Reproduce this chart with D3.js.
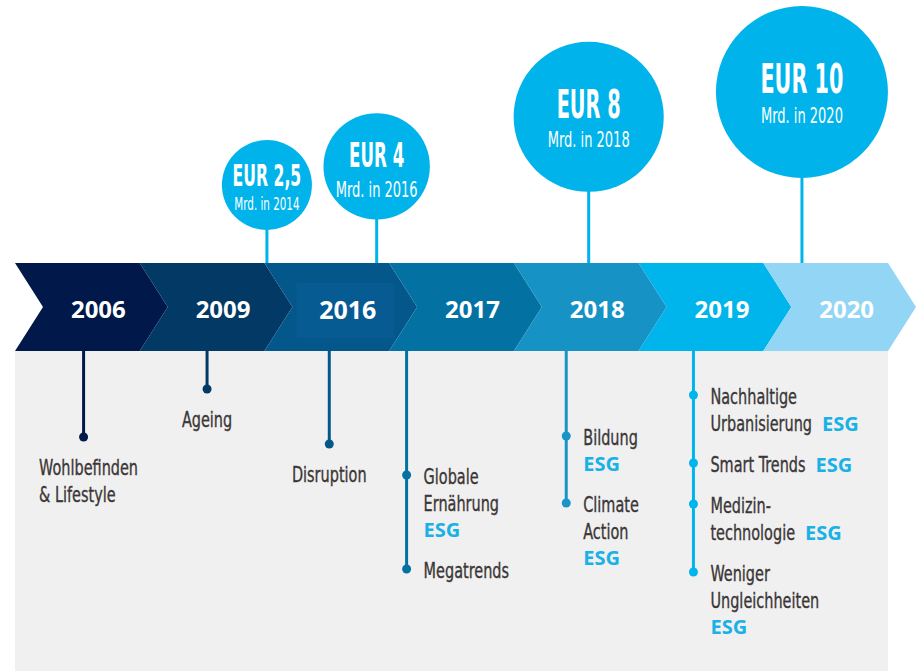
<!DOCTYPE html>
<html>
<head>
<meta charset="utf-8">
<script src="https://cdn.jsdelivr.net/npm/d3@7"></script>
<style>
  body { margin: 0; background: #fff; }
</style>
</head>
<body>
<svg id="chart" width="916" height="671"></svg>
<script>
// ---- data ----
var years = ["2006", "2009", "2016", "2017", "2018", "2019", "2020"];

var fundAmounts = [2.5, 4, 8, 10];
var fundLabels = ["EUR 2,5", "EUR 4", "EUR 8", "EUR 10"];
var fundSubs = ["Mrd. in 2014", "Mrd. in 2016", "Mrd. in 2018", "Mrd. in 2020"];

var themeYears = ["2006", "2009", "2016", "2017", "2018", "2019"];
var themeItems = [
  [{lines: ["Wohlbefinden", "& Lifestyle"]}],
  [{lines: ["Ageing"]}],
  [{lines: ["Disruption"]}],
  [{lines: ["Globale", "Ernährung"], esg: "below"}, {lines: ["Megatrends"]}],
  [{lines: ["Bildung"], esg: "below"}, {lines: ["Climate", "Action"], esg: "below"}],
  [{lines: ["Nachhaltige", "Urbanisierung"], esg: "inline"},
   {lines: ["Smart Trends"], esg: "inline"},
   {lines: ["Medizin-", "technologie"], esg: "inline"},
   {lines: ["Weniger", "Ungleichheiten"], esg: "below"}]
];

// ---- layout ----
var bandColors = ["#00184a", "#023965", "#03578a", "#0372a3", "#1792c5", "#00b4ec", "#93d5f5"];
var stemColors = ["#00184a", "#023965", "#03578a", "#0372a3", "#1a93c6", "#00b4ec"];
var fundSlot = [2.02, 2.9, 4.6, 6.31];      // where each fund circle sits along the band
var stemSlot = [0.55, 1.54, 2.52, 3.14, 4.42, 5.44];
var stemDrop = [86, 38, 93, 124, 85, 44];   // first dot below the band
var hanging = [true, true, true, false, false, false];

var W = 916, H = 671;
var bandTop = 263, bandBot = 351, tip = 28;
var NARROW = "'Liberation Sans Narrow', 'DejaVu Sans Condensed', 'Liberation Sans', Arial, sans-serif";
var WIDE = "'Open Sans', 'Liberation Sans', Arial, sans-serif";
var blue = "#00b4eb", esgBlue = "#19b1e6", ink = "#3b3737";

var svg = d3.select("#chart");

var xSlot = d3.scaleLinear().domain([0, years.length]).range([15, 888]);
var color = d3.scaleOrdinal().domain(years).range(bandColors);
var stemColor = d3.scaleOrdinal().domain(themeYears).range(stemColors);
var rScale = d3.scaleLinear().domain([2.5, 10]).range([45, 86]);
var cyScale = d3.scaleLinear().domain([2.5, 10]).range([185, 92]);
var eurSize = d3.scaleLinear().domain([2.5, 10]).range([31, 41]);
var mrdSize = d3.scaleLinear().domain([2.5, 4]).range([17.5, 22]).clamp(true);

function measure(str, family, size, weight) {
  var t = svg.append("text")
    .style("font-family", family).style("font-size", size + "px").style("font-weight", weight)
    .text(str);
  var w = t.node().getComputedTextLength();
  t.remove();
  return w;
}

// condense factors so the fallback fonts come out as narrow as the original
var kEur = 83 / measure("EUR 10", NARROW, 41, 700);
var kMrd = 82 / measure("Mrd. in 2018", NARROW, 22, 400);
var kLab = 99 / measure("Wohlbefinden", NARROW, 21, 400);

function cText(g, str, x, y, size, weight, k, anchor, fill) {
  return g.append("text")
    .attr("transform", "translate(" + x + "," + y + ") scale(" + k + ",1)")
    .attr("text-anchor", anchor)
    .style("font-family", NARROW)
    .style("font-size", size + "px")
    .style("font-weight", weight)
    .style("fill", fill)
    .text(str);
}

// grey panel under the band
svg.append("rect")
  .attr("x", xSlot(0)).attr("y", bandBot)
  .attr("width", xSlot(years.length) - xSlot(0)).attr("height", H - bandBot)
  .attr("fill", "#f0f0f0");

// ---- chevron band ----
var band = svg.append("g").attr("class", "band");
var mid = (bandTop + bandBot) / 2;

band.selectAll("path.chev")
  .data(years)
  .enter().append("path")
  .attr("class", "chev")
  .attr("fill", function(d) { return color(d); })
  .attr("d", function(d, i) {
    var x0 = xSlot(i), x1 = xSlot(i + 1);
    return "M" + x0 + "," + bandTop + "L" + x1 + "," + bandTop + "L" + (x1 + tip) + "," + mid +
      "L" + x1 + "," + bandBot + "L" + x0 + "," + bandBot + "L" + (x0 + tip) + "," + mid + "Z";
  });

// slight highlight box behind 2016
band.append("rect")
  .attr("x", xSlot(2) + 32).attr("y", 283)
  .attr("width", 98).attr("height", 55)
  .attr("fill", "#065b92");

band.selectAll("text.year")
  .data(years)
  .enter().append("text")
  .attr("class", "year")
  .attr("x", function(d, i) { return (xSlot(i) + xSlot(i + 1)) / 2 + 21; })
  .attr("y", function(d) { return d === "2016" ? 319 : 318; })
  .attr("text-anchor", "middle")
  .style("font-family", WIDE)
  .style("font-weight", 700)
  .style("font-size", function(d) { return d === "2016" ? "25px" : "24px"; })
  .style("fill", "#fff")
  .text(function(d) { return d; });

// ---- fund circles ----
var funds = svg.selectAll("g.fund")
  .data(fundAmounts)
  .enter().append("g")
  .attr("class", "fund");

funds.append("line")
  .attr("x1", function(d, i) { return xSlot(fundSlot[i]); })
  .attr("x2", function(d, i) { return xSlot(fundSlot[i]); })
  .attr("y1", function(d) { return cyScale(d); })
  .attr("y2", bandTop)
  .attr("stroke", blue).attr("stroke-width", 3);

funds.append("circle")
  .attr("cx", function(d, i) { return xSlot(fundSlot[i]); })
  .attr("cy", function(d) { return cyScale(d); })
  .attr("r", function(d) { return rScale(d); })
  .attr("fill", blue);

funds.each(function(d, i) {
  var g = d3.select(this);
  var cx = xSlot(fundSlot[i]), base = cyScale(d) + 1;
  cText(g, fundLabels[i], cx, base, eurSize(d), 700, kEur, "middle", "#fff");
  cText(g, fundSubs[i], cx, base + mrdSize(d) * 1.25 + 2, mrdSize(d), 400, kMrd, "middle", "#fff");
});

// ---- themes below the band ----
var lineH = 27, itemGap = 41;

function label(g, s, x, y) {
  return cText(g, s, x, y, 21, 400, kLab, "start", ink)
    .style("stroke", ink).style("stroke-width", 0.35);
}

function esg(g, x, y) {
  g.append("text")
    .attr("x", x).attr("y", y)
    .style("font-family", WIDE).style("font-weight", 700).style("font-size", "20px")
    .style("fill", esgBlue).text("ESG");
}

themeYears.forEach(function(yr, i) {
  var g = svg.append("g").attr("class", "theme");
  var sx = xSlot(stemSlot[i]);
  var c = stemColor(yr);
  var dots = [];

  if (hanging[i]) {
    var dy = bandBot + stemDrop[i];
    dots.push(dy);
    var lines = themeItems[i][0].lines;
    var maxW = d3.max(lines, function(s) { return measure(s, NARROW, 21, 400) * kLab; });
    var left = sx - maxW / 2 + (lines.length > 1 ? 5 : 0);
    lines.forEach(function(s, j) {
      label(g, s, left, dy + 38 + j * lineH);
    });
  } else {
    var base = bandBot + stemDrop[i] + 9;
    themeItems[i].forEach(function(item) {
      dots.push(base - 9);
      var last = base;
      item.lines.forEach(function(s, j) {
        last = base + j * lineH;
        var t = label(g, s, sx + 17, last);
        if (item.esg === "inline" && j === item.lines.length - 1) {
          var w = t.node().getComputedTextLength() * kLab;
          esg(g, sx + 17 + w + 10, last);
        }
      });
      if (item.esg === "below") {
        last += lineH - 1;
        esg(g, sx + 17, last);
      }
      base = last + itemGap;
    });
  }

  g.insert("line", ":first-child")
    .attr("x1", sx).attr("x2", sx)
    .attr("y1", bandBot).attr("y2", d3.max(dots))
    .attr("stroke", c).attr("stroke-width", 3);

  g.selectAll("circle")
    .data(dots)
    .enter().append("circle")
    .attr("cx", sx).attr("cy", function(d) { return d; })
    .attr("r", 4.5)
    .attr("fill", c);
});
</script>
</body>
</html>
